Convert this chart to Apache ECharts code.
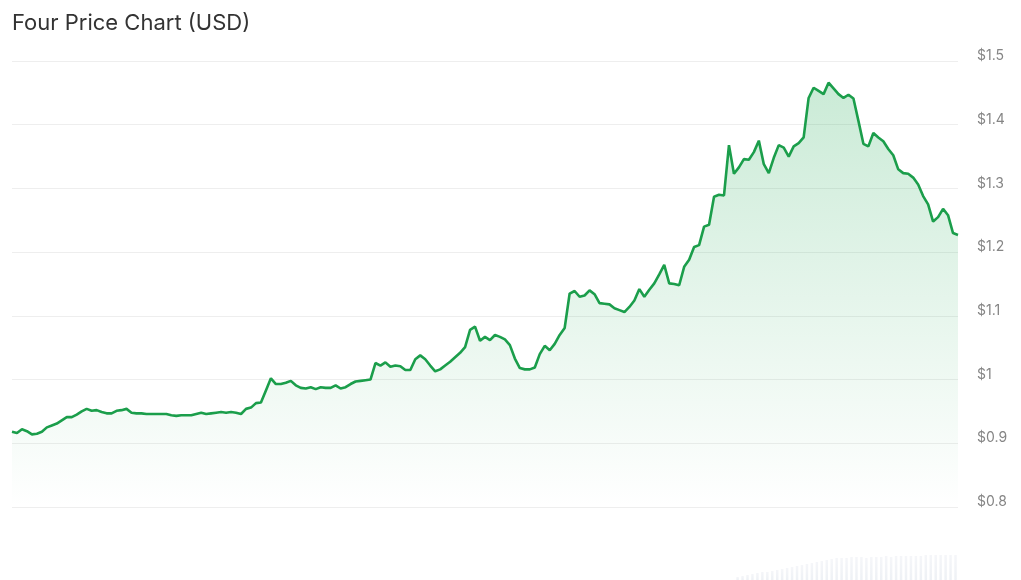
<!DOCTYPE html>
<html>
<head>
<meta charset="utf-8">
<script src="https://cdn.jsdelivr.net/npm/echarts@6/dist/echarts.min.js"></script>
<style>
html,body{margin:0;padding:0;background:#fff;}
#chart{width:1021px;height:580px;}
</style>
</head>
<body>
<div id="chart"></div>
<script>
const titleText = 'Four Price Chart (USD)';
const yTicks = [0.8, 0.9, 1.0, 1.1, 1.2, 1.3, 1.4, 1.5];
const prices = [
0.918,0.916,0.922,0.919,0.914,0.915,0.918,0.925,0.928,0.931,
0.936,0.941,0.941,0.945,0.950,0.954,0.951,0.952,0.949,0.947,
0.947,0.951,0.952,0.954,0.948,0.947,0.947,0.946,0.946,0.946,
0.946,0.946,0.944,0.943,0.944,0.944,0.944,0.946,0.948,0.946,
0.947,0.948,0.949,0.948,0.949,0.948,0.946,0.954,0.956,0.963,
0.964,0.983,1.002,0.993,0.993,0.995,0.998,0.991,0.987,0.986,
0.988,0.985,0.988,0.987,0.987,0.991,0.986,0.988,0.993,0.997,
0.998,0.999,1.000,1.026,1.022,1.027,1.020,1.022,1.021,1.015,
1.015,1.032,1.038,1.032,1.022,1.013,1.016,1.022,1.028,1.035,
1.042,1.051,1.078,1.083,1.061,1.067,1.062,1.070,1.067,1.063,
1.054,1.033,1.018,1.016,1.016,1.019,1.040,1.053,1.046,1.056,
1.070,1.081,1.135,1.139,1.130,1.132,1.140,1.134,1.120,1.119,
1.118,1.112,1.109,1.106,1.114,1.124,1.142,1.130,1.141,1.151,
1.165,1.180,1.151,1.150,1.148,1.177,1.188,1.208,1.211,1.240,
1.243,1.287,1.290,1.289,1.368,1.323,1.333,1.346,1.345,1.357,
1.375,1.338,1.324,1.348,1.368,1.364,1.350,1.366,1.371,1.380,
1.442,1.458,1.453,1.448,1.466,1.457,1.448,1.442,1.447,1.441,
1.406,1.370,1.366,1.387,1.380,1.374,1.362,1.352,1.330,1.324,
1.323,1.317,1.306,1.288,1.275,1.248,1.255,1.268,1.258,1.230,
1.227
];
const volumeTail = [3,4,5,6,7,8,8,9,10,11,12,13,14,15,16,17,18,19,20,21,22,22,22,23,23,23,22,23,23,23,24,23,24,24,24,24,24,24,25,25,25,25,25,25,25];
const categories = prices.map((_, i) => 'P' + i);
const volumes = prices.map((_, i) => {
  const k = i - (prices.length - volumeTail.length);
  return k >= 0 ? volumeTail[k] : 0;
});

const chart = echarts.init(document.getElementById('chart'), null, {renderer: 'canvas'});
chart.setOption({
  animation: false,
  backgroundColor: '#ffffff',
  title: {
    text: titleText,
    left: 7, top: 7,
    textStyle: {fontFamily: 'Inter, sans-serif', fontSize: 22, fontWeight: 'normal', color: '#333333'}
  },
  grid: [
    {left: 12, right: 63, top: 61, height: 446, containLabel: false},
    {left: 12, right: 63, top: 555, bottom: 0}
  ],
  xAxis: [
    {type: 'category', data: categories, boundaryGap: false, gridIndex: 0,
     axisLine: {show: false}, axisTick: {show: false}, axisLabel: {show: false}, splitLine: {show: false}},
    {type: 'category', data: categories, boundaryGap: true, gridIndex: 1,
     axisLine: {show: false}, axisTick: {show: false}, axisLabel: {show: false}, splitLine: {show: false}}
  ],
  yAxis: [
    {type: 'value', position: 'right', gridIndex: 0, min: yTicks[0], max: yTicks[yTicks.length - 1], interval: 0.1,
     axisLine: {show: false}, axisTick: {show: false},
     axisLabel: {margin: 19, color: '#858585', fontFamily: 'Inter, sans-serif', fontSize: 14,
       verticalAlign: 'bottom', lineHeight: 14, padding: [0, 0, -2, 0],
       formatter: v => '$' + parseFloat(v.toFixed(2))},
     splitLine: {lineStyle: {color: '#eeeeee', width: 1}}},
    {type: 'value', gridIndex: 1, min: 0, max: 25, show: false}
  ],
  series: [
    {type: 'line', data: prices, xAxisIndex: 0, yAxisIndex: 0, showSymbol: false, smooth: false,
     lineStyle: {color: '#1b9e4b', width: 2.6},
     areaStyle: {color: new echarts.graphic.LinearGradient(0, 0, 0, 1, [
       {offset: 0, color: 'rgba(34,170,85,0.34)'},
       {offset: 1, color: 'rgba(34,170,85,0.0)'}
     ])}},
    {type: 'bar', data: volumes, xAxisIndex: 1, yAxisIndex: 1, barWidth: '50%',
     itemStyle: {color: new echarts.graphic.LinearGradient(0, 0, 0, 1, [
       {offset: 0, color: '#f5f6f9'},
       {offset: 1, color: '#eef1f5'}
     ])}}
  ]
});
</script>
</body>
</html>
